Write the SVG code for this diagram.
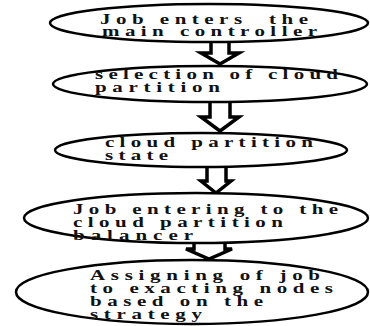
<svg xmlns="http://www.w3.org/2000/svg" width="370" height="326" viewBox="0 0 370 326">
<style>
.n{fill:#fff;stroke:#000;stroke-width:2.5}
.a{fill:#fff;stroke:#000;stroke-width:3.5;stroke-linejoin:miter}
.t{font-family:"Liberation Serif","Times New Roman",serif;font-weight:bold;font-size:14px;fill:#111}
</style>
<rect width="370" height="326" fill="#fff"/>
<g id="connectors">
<polygon class="a" points="211,38 211,53 201,53 220,64 239,53 229,53 229,38"/>
<polygon class="a" points="210,100 210,117 201,117 220,131 239,117 230,117 230,100"/>
<polygon class="a" points="207,166 207,181 201,181 216,193 231,181 226,181 226,166"/>
<polygon class="a" points="194,240 194,249 186,249 209,259 232,249 225,249 225,240"/>
</g>
<g id="n1">
<ellipse class="n" cx="209" cy="23" rx="159" ry="19"/>
<g transform="scale(1.5,1)">
<text class="t" x="66.67" y="24" textLength="138.67" lengthAdjust="spacing" xml:space="preserve">Job enters  the</text>
<text class="t" x="68" y="36" textLength="143.33" lengthAdjust="spacing">main controller</text>
</g>
</g>
<g id="n2">
<ellipse class="n" cx="210" cy="84" rx="157" ry="18"/>
<g transform="scale(1.5,1)">
<text class="t" x="63.33" y="79" textLength="162" lengthAdjust="spacing">selection of cloud</text>
<text class="t" x="63.33" y="92" textLength="83.33" lengthAdjust="spacing">partition</text>
</g>
</g>
<g id="n3">
<ellipse class="n" cx="201" cy="150" rx="146" ry="17"/>
<g transform="scale(1.5,1)">
<text class="t" x="70" y="147" textLength="138.67" lengthAdjust="spacing">cloud partition</text>
<text class="t" x="70" y="160" textLength="42" lengthAdjust="spacing">state</text>
</g>
</g>
<g id="n4">
<ellipse class="n" cx="196" cy="218" rx="172" ry="25"/>
<g transform="scale(1.5,1)">
<text class="t" x="48.67" y="214" textLength="176.67" lengthAdjust="spacing">Job entering to the</text>
<text class="t" x="48.67" y="227" textLength="140" lengthAdjust="spacing">cloud partition</text>
<text class="t" x="48.67" y="240" textLength="80" lengthAdjust="spacing">balancer</text>
</g>
</g>
<g id="n5">
<ellipse class="n" cx="192" cy="292" rx="176" ry="32"/>
<g transform="scale(1.5,1)">
<text class="t" x="60" y="280" textLength="153.33" lengthAdjust="spacing">Assigning of job</text>
<text class="t" x="60" y="293" textLength="162" lengthAdjust="spacing">to exacting nodes</text>
<text class="t" x="60" y="306" textLength="115.33" lengthAdjust="spacing">based on the</text>
<text class="t" x="60" y="319" textLength="74.67" lengthAdjust="spacing">strategy</text>
</g>
</g>
</svg>
